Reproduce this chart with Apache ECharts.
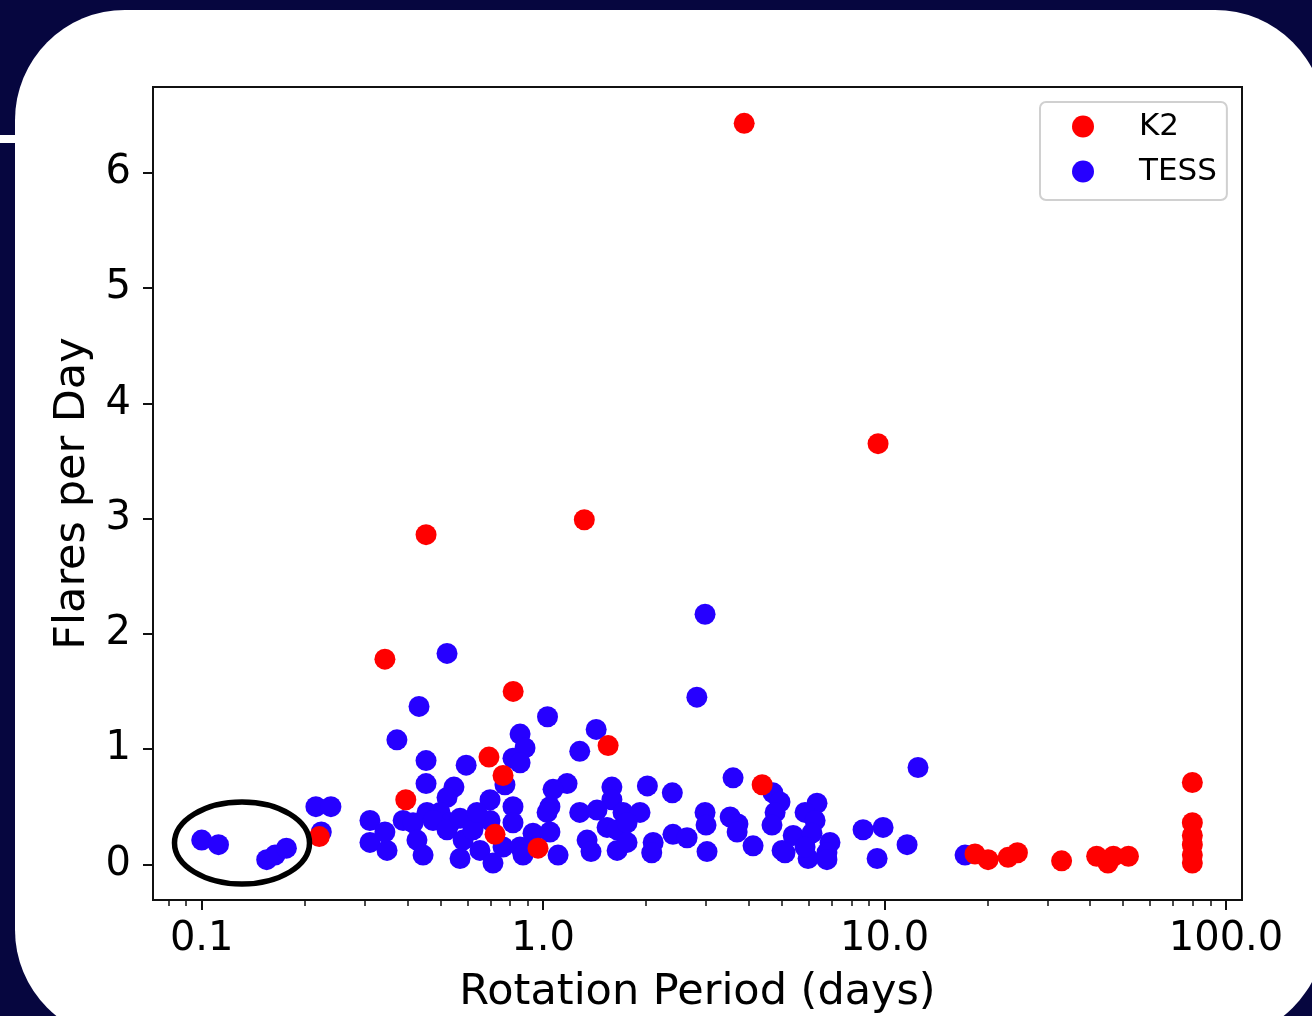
<!DOCTYPE html>
<html>
<head>
<meta charset="utf-8">
<script src="https://cdn.jsdelivr.net/npm/echarts@6/dist/echarts.min.js"></script>
<style>
html,body{margin:0;padding:0;background:#06063f;}
#chart{width:1312px;height:1016px;}
</style>
</head>
<body>
<div id="chart"></div>
<script>
// K2 sample
const k2Period = [3.88, 9.57, 1.32, 0.454, 0.344, 0.817, 1.55, 0.694, 0.763, 4.38, 0.396, 0.221, 0.723, 0.966,
  18.4, 20.1, 23.0, 24.5, 33.0, 41.8, 45.1, 46.8, 51.8, 79.7, 79.7, 79.7, 79.7, 79.7, 79.7];
const k2Rate = [6.43, 3.65, 2.99, 2.86, 1.78, 1.50, 1.03, 0.93, 0.77, 0.69, 0.56, 0.24, 0.26, 0.14,
  0.09, 0.04, 0.06, 0.10, 0.03, 0.07, 0.01, 0.07, 0.07, 0.71, 0.36, 0.25, 0.17, 0.08, 0.01];

// TESS sample
const tessPeriod = [2.98, 0.523, 2.82, 0.433, 1.03, 1.43, 0.373, 0.856, 0.885, 1.28, 0.454, 0.595, 0.816, 0.856,
  12.53, 3.60, 0.454, 0.548, 0.773, 1.175, 1.59, 2.02, 2.39, 4.71, 4.94, 6.34, 0.523, 0.699, 0.216, 0.239,
  0.816, 1.047, 1.59, 0.224, 0.100, 0.112, 0.155, 0.164, 0.177, 0.311, 0.311, 0.349, 0.344, 0.389, 0.416,
  0.457, 0.427, 0.445, 0.499, 0.534, 0.476, 0.523, 0.571, 0.583, 0.571, 0.623, 0.653, 0.699, 0.713, 0.640,
  0.763, 0.816, 0.856, 0.934, 0.873, 1.027, 1.069, 1.047, 1.106, 1.28, 1.438, 1.714, 1.922, 1.539, 1.647,
  1.761, 1.647, 1.761, 1.345, 1.381, 2.10, 2.08, 2.40, 2.64, 2.98, 3.00, 3.02, 3.53, 3.72, 3.70, 4.12,
  4.78, 4.68, 5.01, 5.85, 6.26, 5.40, 6.13, 6.92, 5.11, 5.97, 6.78, 8.65, 9.90, 9.51, 11.64, 17.21, 5.85, 6.78];
const tessRate = [2.17, 1.83, 1.45, 1.37, 1.28, 1.17, 1.08, 1.13, 1.01, 0.98, 0.90, 0.86, 0.92, 0.88,
  0.84, 0.75, 0.70, 0.67, 0.69, 0.70, 0.67, 0.68, 0.62, 0.62, 0.54, 0.53, 0.58, 0.56, 0.50, 0.50,
  0.50, 0.50, 0.56, 0.28, 0.21, 0.17, 0.04, 0.08, 0.14, 0.38, 0.19, 0.12, 0.28, 0.38, 0.36,
  0.45, 0.21, 0.08, 0.45, 0.36, 0.38, 0.30, 0.40, 0.21, 0.05, 0.30, 0.12, 0.38, 0.01, 0.45,
  0.15, 0.36, 0.15, 0.27, 0.08, 0.45, 0.65, 0.28, 0.08, 0.45, 0.47, 0.45, 0.45, 0.32, 0.30,
  0.36, 0.12, 0.19, 0.21, 0.11, 0.19, 0.10, 0.26, 0.23, 0.45, 0.34, 0.11, 0.41, 0.35, 0.28, 0.16,
  0.45, 0.34, 0.12, 0.45, 0.38, 0.25, 0.27, 0.19, 0.10, 0.05, 0.10, 0.30, 0.32, 0.05, 0.17, 0.08, 0.15, 0.04];

const xMajorTicks = [0.1, 1, 10, 100];
const xMinorTicks = [0.08, 0.09, 0.2, 0.3, 0.4, 0.5, 0.6, 0.7, 0.8, 0.9, 2, 3, 4, 5, 6, 7, 8, 9,
  20, 30, 40, 50, 60, 70, 80, 90];
const yTicks = [0, 1, 2, 3, 4, 5, 6];

const xMin = 0.0720, xMax = 111.4;
const yMin = -0.31, yMax = 6.745;

const FONT = 'DejaVu Sans';
const k2Data = k2Period.map((p, i) => [p, k2Rate[i]]);
const tessData = tessPeriod.map((p, i) => [p, tessRate[i]]);

const chart = echarts.init(document.getElementById('chart'), null, {renderer: 'canvas'});
chart.setOption({
  backgroundColor: '#06063f',
  animation: false,
  textStyle: {fontFamily: FONT},
  graphic: [
    {type: 'rect', z: -100, shape: {x: 15, y: 10, width: 1310, height: 1030, r: 110}, style: {fill: '#ffffff'}},
    {type: 'rect', z: -100, shape: {x: 0, y: 135, width: 16, height: 8}, style: {fill: '#ffffff'}},
    {type: 'ellipse', z: 100, shape: {cx: 242, cy: 843, rx: 67.5, ry: 41}, style: {fill: 'transparent', stroke: '#000', lineWidth: 5.5}}
  ],
  grid: {left: 153, top: 87, right: 70, bottom: 116, outerBoundsMode: 'none', containLabel: false,
    show: true, borderColor: '#111', borderWidth: 2, backgroundColor: 'transparent'},
  legend: {
    data: ['K2', 'TESS'],
    orient: 'vertical',
    left: 1040, top: 102,
    padding: [9, 10, 13, 32],
    itemWidth: 22, itemHeight: 22, itemGap: 14,
    icon: 'circle',
    backgroundColor: '#fff',
    borderColor: '#d0d0d0', borderWidth: 2, borderRadius: 6,
    textStyle: {fontFamily: FONT, fontSize: 31, color: '#000', padding: [0, 0, 0, 40]}
  },
  xAxis: [{
    type: 'log', logBase: 10, min: xMin, max: xMax,
    name: 'Rotation Period (days)', nameLocation: 'middle', nameGap: 71,
    nameTextStyle: {fontFamily: FONT, fontSize: 43, color: '#000'},
    axisLine: {show: false, onZero: false},
    splitLine: {show: false},
    axisTick: {show: true, length: 10, lineStyle: {color: '#111', width: 2}, customValues: xMajorTicks},
    axisLabel: {fontFamily: FONT, fontSize: 40, color: '#000', margin: 20, customValues: xMajorTicks,
      formatter: v => Number(v).toFixed(1)}
  }, {
    type: 'log', logBase: 10, min: xMin, max: xMax, position: 'bottom',
    axisLine: {show: false, onZero: false}, splitLine: {show: false},
    axisTick: {show: true, length: 6, lineStyle: {color: '#111', width: 1.5}, customValues: xMinorTicks},
    axisLabel: {show: false}
  }],
  yAxis: {
    type: 'value', min: yMin, max: yMax,
    name: 'Flares per Day', nameLocation: 'middle', nameGap: 58,
    nameTextStyle: {fontFamily: FONT, fontSize: 43, color: '#000'},
    axisLine: {show: false, onZero: false}, splitLine: {show: false},
    axisTick: {show: true, length: 10, lineStyle: {color: '#111', width: 2}, customValues: yTicks},
    axisLabel: {fontFamily: FONT, fontSize: 40, color: '#000', margin: 22, customValues: yTicks}
  },
  series: [
    {name: 'TESS', type: 'scatter', xAxisIndex: 0, data: tessData, symbolSize: 21, z: 2,
      itemStyle: {color: '#2600ff', opacity: 1}},
    {name: 'K2', type: 'scatter', xAxisIndex: 0, data: k2Data, symbolSize: 21, z: 3,
      itemStyle: {color: '#ff0000', opacity: 1}}
  ]
});
</script>
</body>
</html>
